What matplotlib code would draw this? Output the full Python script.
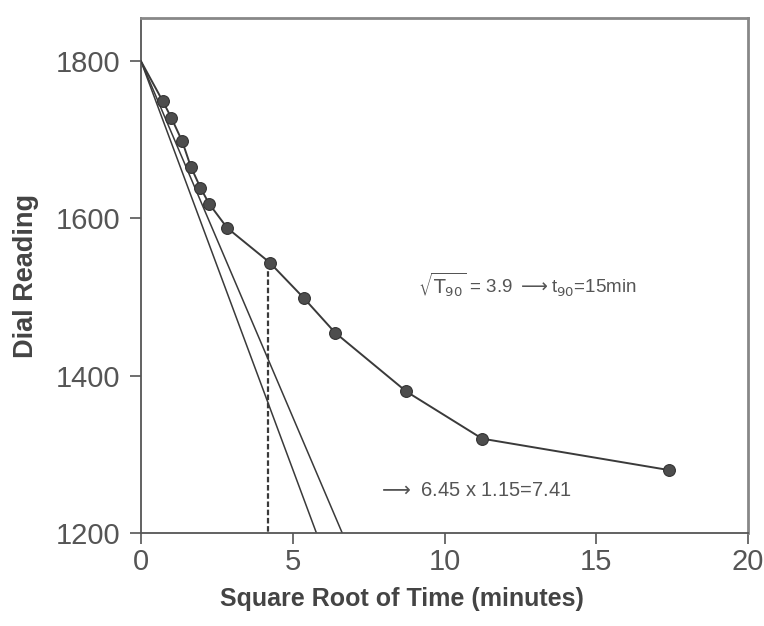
import matplotlib
matplotlib.use("Agg")
import matplotlib.pyplot as plt

# ---- data ----
initial_sqrt_t = 0.0
initial_dial = 1800
sqrt_t = [0.72, 1.0, 1.36, 1.64, 1.96, 2.24, 2.84, 4.24, 5.36, 6.39, 8.74, 11.24, 17.4]
dial = [1749, 1728, 1698, 1666, 1639, 1619, 1588, 1544, 1499, 1455, 1380, 1320, 1280]

# construction lines (Taylor's square-root-of-time method)
tangent_x = [0.0, 5.78]
tangent_y = [1800, 1200]
offset_x = [0.0, 6.63]
offset_y = [1800, 1200]
t90_x = 4.2
t90_y = [1544, 1200]

x_ticks = [0, 5, 10, 15, 20]
y_ticks = [1200, 1400, 1600, 1800]

plt.rcParams['font.family'] = ['Liberation Sans', 'DejaVu Sans']

fig = plt.figure(figsize=(7.64, 6.26), dpi=100)
ax = fig.add_axes([141/764, 1 - 533/626, (748 - 141)/764, (533 - 18)/626])

line_c = '#3a3a3a'
ax.plot(tangent_x, tangent_y, color=line_c, lw=1.1, zorder=2)
ax.plot(offset_x, offset_y, color=line_c, lw=1.1, zorder=2)
ax.plot([t90_x, t90_x], t90_y, color=line_c, lw=1.6, ls=(0, (2.5, 1.2)), zorder=2)

ax.plot([initial_sqrt_t] + sqrt_t, [initial_dial] + dial, color=line_c, lw=1.4, zorder=3)
ax.plot(sqrt_t, dial, ls='none', marker='o', ms=8.5, mfc='#4d4d4d', mec='#333333',
        mew=0.8, zorder=4)

ax.set_xlim(0, 20)
ax.set_ylim(1200, 1855)
ax.set_xticks(x_ticks)
ax.set_yticks(y_ticks)
ax.tick_params(axis='both', direction='out', length=8, width=1.2, color='#555555',
               labelsize=21, labelcolor='#555555')
ax.tick_params(axis='y', pad=7)
ax.tick_params(axis='x', pad=3)

for s in ['left', 'bottom']:
    ax.spines[s].set_color('#555555')
    ax.spines[s].set_linewidth(1.3)
for s in ['top', 'right']:
    ax.spines[s].set_color('#888888')
    ax.spines[s].set_linewidth(2.0)

ax.set_xlabel('Square Root of Time (minutes)', fontsize=18, fontweight='bold',
              color='#444444')
ax.xaxis.set_label_coords(0.43, -0.104)
ax.set_ylabel('Dial Reading', fontsize=19.5, fontweight='bold', color='#444444',
              labelpad=12)

ax.text(0.456, 0.482,
        r'$\sqrt{\mathrm{T}_{90}}$ = 3.9 $\longrightarrow$t$_{90}$=15min',
        transform=ax.transAxes, fontsize=13.5, color='#555555', va='center', ha='left')
ax.text(0.391, 0.083, r'$\longrightarrow$ 6.45 x 1.15=7.41',
        transform=ax.transAxes, fontsize=14.5, color='#555555', va='center', ha='left')

fig.savefig('out.png', dpi=100, facecolor='white')
